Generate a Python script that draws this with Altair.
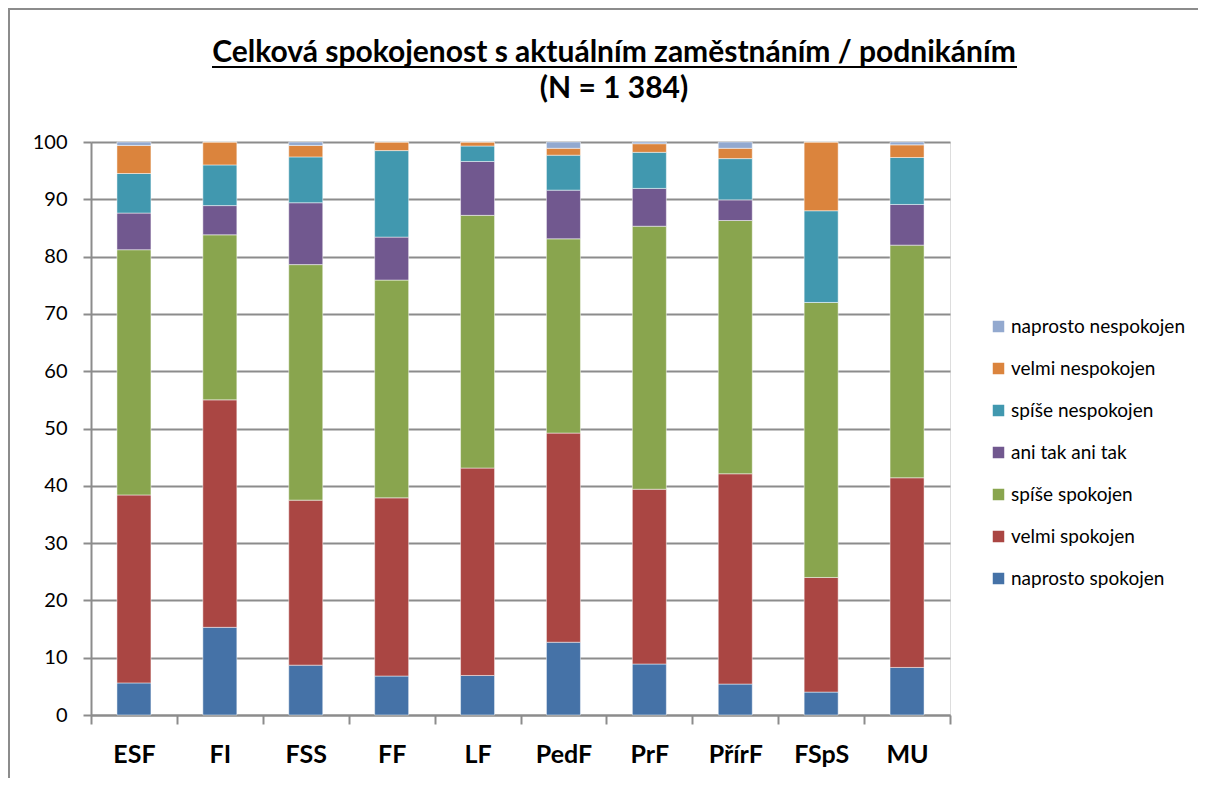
import altair as alt
import pandas as pd

categories = ["ESF", "FI", "FSS", "FF", "LF", "PedF", "PrF", "PřírF", "FSpS", "MU"]
series = ["naprosto spokojen", "velmi spokojen", "spíše spokojen", "ani tak ani tak",
          "spíše nespokojen", "velmi nespokojen", "naprosto nespokojen"]
colors = ["#4572A7", "#AA4643", "#89A54E", "#71588F", "#4198AF", "#DB843D", "#93A9CF"]

title_lines = ["Celková spokojenost s aktuálním zaměstnáním / podnikáním", "(N = 1 384)"]

naprosto_spokojen   = [5.6, 15.3, 8.7, 6.8, 6.9, 12.7, 8.9, 5.4, 4.0, 8.3]
velmi_spokojen      = [32.8, 39.7, 28.8, 31.1, 36.2, 36.5, 30.5, 36.7, 20.0, 33.1]
spise_spokojen      = [42.8, 28.8, 41.1, 38.0, 44.1, 33.9, 45.9, 44.2, 48.0, 40.6]
ani_tak_ani_tak     = [6.4, 5.1, 10.8, 7.5, 9.4, 8.5, 6.6, 3.6, 0.0, 7.1]
spise_nespokojen    = [6.9, 7.1, 8.0, 15.1, 2.7, 6.1, 6.3, 7.2, 16.0, 8.2]
velmi_nespokojen    = [4.9, 4.0, 2.0, 1.5, 0.7, 1.2, 1.5, 1.8, 12.0, 2.2]
naprosto_nespokojen = [0.6, 0.0, 0.6, 0.0, 0.0, 1.1, 0.3, 1.1, 0.0, 0.5]

values = [naprosto_spokojen, velmi_spokojen, spise_spokojen, ani_tak_ani_tak,
          spise_nespokojen, velmi_nespokojen, naprosto_nespokojen]

rows = []
for si, (name, vals) in enumerate(zip(series, values)):
    for cat, v in zip(categories, vals):
        rows.append({"fakulta": cat, "odpoved": name, "hodnota": v, "poradi": si})
df = pd.DataFrame(rows)

FONT = "Lato"
GRAY = "#8c8c8c"

bars = alt.Chart(df).mark_bar(size=34, stroke="white", strokeWidth=0.8, strokeOpacity=0.6).encode(
    x=alt.X("fakulta:N", sort=categories, title=None,
            scale=alt.Scale(paddingInner=0, paddingOuter=0),
            axis=alt.Axis(labelAngle=0, labelFontSize=25, labelFontWeight="bold",
                          labelColor="black", labelFont=FONT, labelPadding=18,
                          tickBand="extent", tickSize=9, tickColor=GRAY, tickWidth=2,
                          domainColor=GRAY, domainWidth=2, grid=False)),
    y=alt.Y("hodnota:Q", stack="zero", title=None,
            scale=alt.Scale(domain=[0, 100], nice=False),
            axis=alt.Axis(values=list(range(0, 101, 10)), labelFontSize=20,
                          labelColor="black", labelFont=FONT, labelPadding=16,
                          tickSize=8, tickColor=GRAY, tickWidth=2,
                          domainColor=GRAY, domainWidth=2,
                          grid=True, gridColor=GRAY, gridWidth=1.8)),
    color=alt.Color("odpoved:N",
                    scale=alt.Scale(domain=series[::-1], range=colors[::-1]),
                    legend=alt.Legend(title=None, orient="none", legendX=898, legendY=175,
                                      symbolType="square", symbolSize=132,
                                      symbolStrokeWidth=0, labelFontSize=19,
                                      labelFont=FONT, labelColor="black", labelLimit=400,
                                      labelOffset=3, rowPadding=22)),
    order=alt.Order("poradi:Q", sort="ascending"),
)

one = alt.Data(values=[{"a": 1}])

title1 = alt.Chart(one).mark_text(font=FONT, fontSize=30, fontWeight="bold", color="black",
                                  align="center", baseline="alphabetic").encode(
    x=alt.value(523), y=alt.value(-80), text=alt.value(title_lines[0])
)
title2 = alt.Chart(one).mark_text(font=FONT, fontSize=30, fontWeight="bold", color="black",
                                  align="center", baseline="alphabetic").encode(
    x=alt.value(523), y=alt.value(-44), text=alt.value(title_lines[1])
)

underline = alt.Chart(one).mark_rule(color="black", strokeWidth=2).encode(
    x=alt.value(121), x2=alt.value(926), y=alt.value(-75)
)

frame = alt.Chart(one).mark_rect(fillOpacity=0, stroke=GRAY, strokeWidth=2).encode(
    x=alt.value(-82), x2=alt.value(3000), y=alt.value(-133), y2=alt.value(3000)
)

chart = alt.layer(frame, bars, title1, title2, underline).properties(
    width=859, height=573,
    autosize=alt.AutoSizeParams(type="none"),
    padding={"left": 83, "top": 134, "right": 248, "bottom": 63},
).configure_view(stroke=None).configure(font=FONT)

chart.save("out.html", embed_options={"renderer": "svg", "actions": False})
